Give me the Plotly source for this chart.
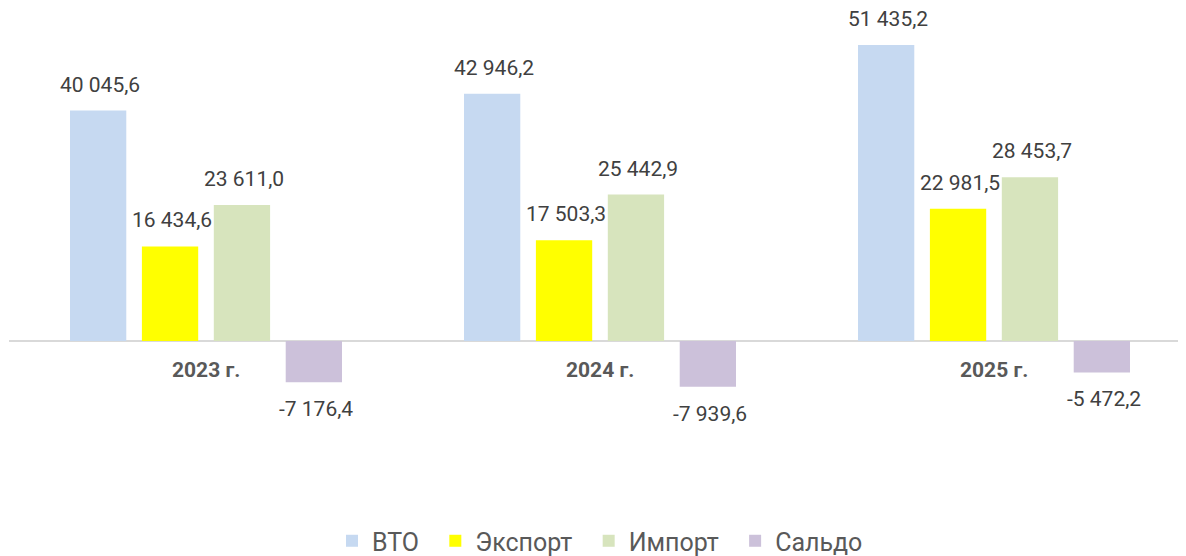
import plotly.graph_objects as go

categories = ["2023 г.", "2024 г.", "2025 г."]
series_names = ["ВТО", "Экспорт", "Импорт", "Сальдо"]
vto = [40045.6, 42946.2, 51435.2]
export = [16434.6, 17503.3, 22981.5]
imp = [23611.0, 25442.9, 28453.7]
saldo = [-7176.4, -7939.6, -5472.2]
colors = ["#c6d9f1", "#ffff00", "#d7e4bd", "#ccc1da"]

series = [vto, export, imp, saldo]

def fmt(v):
    s = f"{abs(v):,.1f}".replace(",", " ").replace(".", ",")
    return ("-" if v < 0 else "") + s

FONT = "Roboto, sans-serif"
bargap = 0.27
bargroupgap = 0.217
xs = list(range(len(categories)))

fig = go.Figure()
for k, (name, vals, col) in enumerate(zip(series_names, series, colors)):
    legend_name = name + ("\u00a0\u2009" if k < len(series_names) - 1 else "")
    fig.add_trace(go.Bar(x=xs, y=vals, name=legend_name, marker=dict(color=col, line=dict(width=0))))

annotations = []
n = len(series)
slot = (1 - bargap) / n
for k, vals in enumerate(series):
    off = -(1 - bargap) / 2 + slot * (k + 0.5)
    for i, v in enumerate(vals):
        annotations.append(dict(
            x=xs[i] + off, y=v, xref="x", yref="y", text=fmt(v), showarrow=False,
            yshift=26 if v >= 0 else -27, xshift=2,
            font=dict(family=FONT, size=21, color="#404040")))
for i, c in enumerate(categories):
    annotations.append(dict(
        x=xs[i], y=0, xref="x", yref="y", text=f"<b>{c}</b>", showarrow=False, yshift=-29,
        font=dict(family=FONT, size=21, color="#595959")))

fig.update_layout(
    width=1186, height=556,
    margin=dict(l=1, r=3, t=0, b=116, autoexpand=False),
    barmode="group", bargap=bargap, bargroupgap=bargroupgap,
    plot_bgcolor="white", paper_bgcolor="white",
    xaxis=dict(range=[-0.5, 2.5], showticklabels=False, showgrid=False, zeroline=False,
               showline=False, ticks=""),
    yaxis=dict(range=[-18593, 57863], showticklabels=False, showgrid=False, zeroline=True,
               zerolinecolor="#d9d9d9", zerolinewidth=1.5, showline=False, ticks=""),
    legend=dict(orientation="h", x=0.5, xanchor="center", y=-0.2114, yanchor="middle",
                font=dict(family=FONT, size=25, color="#595959"),
                itemwidth=30, traceorder="normal"),
    annotations=annotations,
    showlegend=True,
)

fig.write_html("out.html")
